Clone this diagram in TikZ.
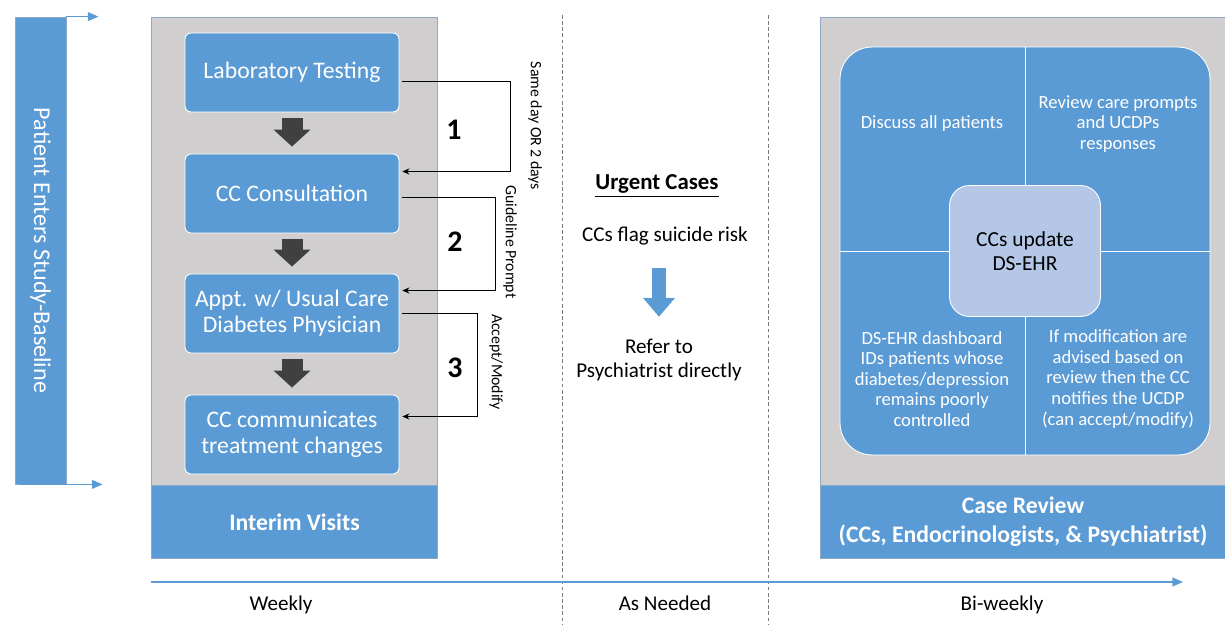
\documentclass[tikz,border=0pt]{standalone}
\usepackage{fontspec}
\setmainfont{Carlito}
\usetikzlibrary{arrows.meta,calc}
\definecolor{boxblue}{RGB}{91,155,213}
\definecolor{panelgray}{RGB}{208,206,206}
\definecolor{paleblue}{RGB}{180,199,231}
\definecolor{darkarrow}{RGB}{64,64,64}
\definecolor{panelline}{RGB}{143,170,196}

\begin{document}
\begin{tikzpicture}[x=0.02cm,y=-0.02cm,
  stepbox/.style={rectangle,rounded corners=0.12cm,fill=boxblue,draw=white,line width=0.5pt,text=white,
    minimum width=4.28cm,minimum height=1.58cm,inner sep=0pt,align=center,font=\fontsize{13.5}{14.7}\selectfont},
  panel/.style={rectangle,fill=panelgray,draw=panelline,line width=0.6pt,inner sep=0pt},
  band/.style={rectangle,fill=boxblue,draw=panelline,line width=0.6pt,inner sep=0pt,text=white,align=center,
    font=\bfseries\fontsize{13.5}{16.5}\selectfont},
  downarrow/.style={darkarrow,line width=0.42cm,-{Triangle[length=0.34cm,width=0.72cm]}},
  link/.style={line width=0.5pt,-{Stealth[length=4pt,width=3.5pt]}},
  quadtext/.style={text=white,align=center,inner sep=0pt,font=\fontsize{10.6}{11.7}\selectfont},
  plain/.style={align=center,inner sep=0pt,font=\fontsize{12}{13.6}\selectfont},
  flow/.style={boxblue,line width=0.85pt,-{Triangle[length=6pt,width=5pt]}}
]
\useasboundingbox (0,0) rectangle (1225,625);

% entry bar
\node[rectangle,fill=boxblue,draw=panelline,line width=0.5pt,rotate=-90,minimum width=9.34cm,minimum height=1.02cm,
  inner sep=0pt,text=white,font=\fontsize{13.7}{14}\selectfont] (entry) at (40.5,250.5) {Patient Enters Study-Baseline};
\draw[flow,line width=0.6pt] (entry.north west) -- ++(32,0);
\draw[flow,line width=0.6pt] ($(entry.south east)+(5,0)$) -- ++(83,0);

% weekly panel
\node[panel,minimum width=5.72cm,minimum height=10.82cm,anchor=north west] (weekly) at (151,17) {};
\node[band,minimum width=5.72cm,minimum height=1.46cm,anchor=south west] (interim) at (weekly.south west) {Interim Visits};

\node[stepbox] (lab) at (292,72.5) {Laboratory Testing};
\node[stepbox] (cons) at (292,193.5) {CC Consultation};
\node[stepbox] (appt) at (292,313.5) {Appt. w/ Usual Care\\Diabetes Physician};
\node[stepbox] (comm) at (292,434.5) {CC communicates\\treatment changes};

\foreach \a/\b in {lab/cons,cons/appt,appt/comm}
  \draw[downarrow,shorten <=0.12cm,shorten >=0.14cm] (\a.south) -- (\b.north);

\foreach \a/\b/\w/\s/\e in {lab/cons/108/9/-22,cons/appt/93/4/-23,appt/comm/75/0/-18}
  \draw[link] ($(\a.east)+(3,\s)$) -- ++(\w,0) |- ($(\b.east)+(3,\e)$);

\node[font=\bfseries\fontsize{17}{17}\selectfont] (one) at (454,130) {1};
\node[font=\bfseries\fontsize{17}{17}\selectfont] (two) at (455,242) {2};
\node[font=\bfseries\fontsize{17}{17}\selectfont] (three) at (455,368) {3};
\node[rotate=-90,inner sep=0pt,font=\fontsize{9}{9}\selectfont] (sameday) at (535,126) {Same day OR 2 days};
\node[rotate=-90,inner sep=0pt,font=\fontsize{9}{9}\selectfont] (prompt) at (510,242) {Guideline Prompt};
\node[rotate=-90,inner sep=0pt,font=\fontsize{9}{9}\selectfont] (accept) at (496,362) {Accept/Modify};

% as needed
\draw[darkarrow!70,line width=0.5pt,dash pattern=on 2pt off 1.5pt] (562,15) -- (562,625);
\draw[darkarrow!70,line width=0.5pt,dash pattern=on 2pt off 1.5pt] (768,15) -- (768,625);

\node[plain,font=\bfseries\fontsize{13}{14}\selectfont] (urgent) at (657,186) {\underline{Urgent Cases}};
\node[plain] (flag) at (665,236) {CCs flag suicide risk};
\node[plain] (refer) at (659,360) {Refer to\\Psychiatrist directly};
\draw[boxblue,line width=0.28cm,-{Triangle[length=0.38cm,width=0.62cm]},shorten <=0.46cm,shorten >=0.44cm]
  (flag.south -| refer.north) -- (refer.north);

% bi-weekly panel
\node[panel,minimum width=8.1cm,minimum height=10.82cm,anchor=north west] (biweekly) at (820,17) {};
\node[band,minimum width=8.1cm,minimum height=1.46cm,anchor=south west] (review) at (biweekly.south west)
  {Case Review\\(CCs, Endocrinologists, \& Psychiatrist)};

\node[rectangle,rounded corners=0.64cm,fill=boxblue,draw=white,line width=0.5pt,minimum width=7.4cm,
  minimum height=8.16cm,inner sep=0pt] (quad) at (1025,251) {};
\draw[white,line width=0.5pt] (quad.north) -- (quad.south);
\draw[white,line width=0.5pt] (quad.west) -- (quad.east);
\node[rectangle,rounded corners=0.4cm,fill=paleblue,draw=white,line width=0.5pt,minimum width=3.02cm,
  minimum height=2.62cm,inner sep=0pt,align=center,font=\fontsize{12.2}{13.6}\selectfont] (update) at (1025,251)
  {CCs update\\DS-EHR};

\node[quadtext] (discuss) at (932,124) {Discuss all patients};
\node[quadtext] (prompts) at (1118,124) {Review care prompts\\and UCDPs\\responses};
\node[quadtext] (dashboard) at (932,379) {DS-EHR dashboard\\IDs patients whose\\diabetes/depression\\remains poorly\\controlled};
\node[quadtext] (notify) at (1118,379) {If modification are\\advised based on\\review then the CC\\notifies the UCDP\\(can accept/modify)};

% time line
\coordinate (tstart) at (151,582);
\coordinate (tend) at (1183,582);
\draw[flow] (tstart) -- (tend);
\node[plain,anchor=base] (weeklylbl) at (281,610) {Weekly};
\node[plain,anchor=base] (neededlbl) at (665,610) {As Needed};
\node[plain,anchor=base] (biweeklylbl) at (1002,610) {Bi-weekly};
\end{tikzpicture}
\end{document}
